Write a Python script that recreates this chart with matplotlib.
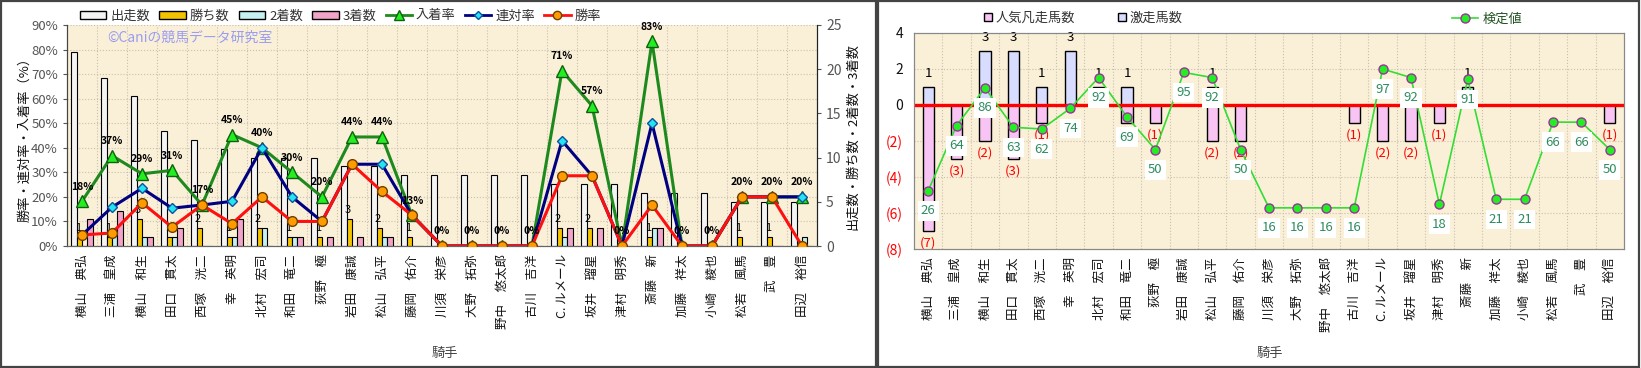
import numpy as np
import matplotlib.pyplot as plt
from matplotlib.patches import Rectangle, Patch
from matplotlib.lines import Line2D

plt.rcParams['font.family'] = ['Noto Sans CJK JP', 'DejaVu Sans']

# ---- データ ----
jockeys = ['横山　典弘', '三浦　皇成', '横山　和生', '田口　貫太', '西塚　洸二',
           '幸　英明', '北村　宏司', '和田　竜二', '荻野　極', '岩田　康誠',
           '松山　弘平', '藤岡　佑介', '川須　栄彦', '大野　拓弥', '野中　悠太郎',
           '古川　吉洋', 'C. ルメール', '坂井　瑠星', '津村　明秀', '斎藤　新',
           '加藤　祥太', '小崎　綾也', '松若　風馬', '武　豊', '田辺　裕信']

runs = [22, 19, 17, 13, 12, 11, 10, 10, 10, 9, 9, 8, 8, 8, 8, 8, 7, 7, 7, 6, 6, 6, 5, 5, 5]
wins = [1, 1, 3, 1, 2, 1, 2, 1, 1, 3, 2, 1, 0, 0, 0, 0, 2, 2, 0, 1, 0, 0, 1, 1, 0]
seconds = [0, 2, 1, 1, 0, 1, 2, 1, 0, 0, 1, 0, 0, 0, 0, 0, 1, 0, 0, 2, 0, 0, 0, 0, 1]
thirds = [3, 4, 1, 2, 0, 3, 0, 1, 1, 1, 1, 0, 0, 0, 0, 0, 2, 2, 0, 2, 0, 0, 0, 0, 0]

# 率（%）
place_rate = [18.2, 36.8, 29.4, 30.8, 16.7, 45.4, 40.0, 30.0, 20.0, 44.4, 44.4, 12.5,
              0, 0, 0, 0, 71.4, 57.1, 0, 83.3, 0, 0, 20.0, 20.0, 20.0]
rentai_rate = [4.5, 15.8, 23.5, 15.4, 16.7, 18.2, 40.0, 20.0, 10.0, 33.3, 33.3, 12.5,
               0, 0, 0, 0, 42.9, 28.6, 0, 50.0, 0, 0, 20.0, 20.0, 20.0]
win_rate = [4.5, 5.3, 17.6, 7.7, 16.7, 9.1, 20.0, 10.0, 10.0, 33.3, 22.2, 12.5,
            0, 0, 0, 0, 28.6, 28.6, 0, 16.7, 0, 0, 20.0, 20.0, 0]

# 右グラフ
hot_runs = [1, 0, 3, 3, 1, 3, 1, 1, 0, 0, 1, 0, 0, 0, 0, 0, 0, 0, 0, 1, 0, 0, 0, 0, 0]
flop_runs = [7, 3, 2, 3, 1, 0, 0, 1, 1, 0, 2, 2, 0, 0, 0, 1, 2, 2, 1, 0, 0, 0, 0, 0, 1]
test_val = [26, 64, 86, 63, 62, 74, 92, 69, 50, 95, 92, 50, 16, 16, 16, 16,
            97, 92, 18, 91, 21, 21, 66, 66, 50]

W, H = 1641, 368
fig = plt.figure(figsize=(W / 100, H / 100), dpi=100)
fig.patch.set_facecolor('white')

def fx(px):
    return px / W

def fy(py):
    return 1 - py / H

# パネル枠
fig.patches.append(Rectangle((fx(1), fy(367)), fx(875), 366 / H, transform=fig.transFigure,
                             fill=False, ec='#444444', lw=1.6))
fig.patches.append(Rectangle((fx(878), fy(367)), fx(761), 366 / H, transform=fig.transFigure,
                             fill=False, ec='#444444', lw=1.6))

BG = '#FAF0D8'
GRID = '#C8C0B0'
x = np.arange(len(jockeys))

# ================= 左グラフ =================
ax1 = fig.add_axes([fx(67), fy(246), fx(750), 221 / H])   # 件数（右軸）
ax1.set_facecolor(BG)
ax2 = ax1.twinx()                                         # 率（左軸）

ax1.set_xlim(-0.5, len(jockeys) - 0.5)
ax1.set_ylim(0, 25)
ax2.set_ylim(0, 90)

# グリッド
for p in range(10, 91, 10):
    ax1.axhline(p / 90 * 25, color=GRID, lw=0.8, ls=':', zorder=0.5)
for i in range(1, len(jockeys)):
    ax1.axvline(i - 0.5, color=GRID, lw=0.8, ls=':', zorder=0.5)

bw = 0.18
ax1.bar(x - 0.27, runs, bw, color='#F4F4F4', edgecolor='black', lw=0.8, zorder=2)
ax1.bar(x - 0.09, wins, bw, color='#F5C400', edgecolor='black', lw=0.8, zorder=2)
ax1.bar(x + 0.09, seconds, bw, color='#C4F0F2', edgecolor='black', lw=0.8, zorder=2)
ax1.bar(x + 0.27, thirds, bw, color='#F2A4C8', edgecolor='black', lw=0.8, zorder=2)

for i, w in enumerate(wins):
    if w > 0:
        ax1.annotate(str(w), (x[i] - 0.09, w), xytext=(-1, 3), textcoords='offset points',
                     ha='center', va='bottom', fontsize=8, zorder=5)

ax2.plot(x, place_rate, color='#1E8A1E', lw=2.2, marker='^', ms=8.5,
         mfc='#22EE22', mec='#106010', zorder=3)
ax2.plot(x, rentai_rate, color='#000080', lw=2.2, marker='D', ms=5,
         mfc='#22E5F0', mec='#1050A0', zorder=4)
ax2.plot(x, win_rate, color='#FF1010', lw=2.2, marker='o', ms=7,
         mfc='#FF9A00', mec='#704000', zorder=5)

for i, v in enumerate(place_rate):
    ax2.annotate(f'{int(v + 0.5)}%', (x[i], v), xytext=(0, 7), textcoords='offset points',
                 ha='center', va='bottom', fontsize=7.5, fontweight='bold', zorder=6)

# 軸の位置入れ替え
ax1.yaxis.tick_right()
ax2.yaxis.tick_left()
ax1.set_yticks(range(0, 26, 5))
ax2.set_yticks(range(0, 91, 10))
ax2.set_yticklabels([f'{p}%' for p in range(0, 91, 10)])
ax1.tick_params(axis='y', labelsize=10, colors='#555555', length=3)
ax2.tick_params(axis='y', labelsize=9.5, colors='#555555', length=3)
ax1.set_xticks(x)
ax1.set_xticklabels(jockeys, rotation=90, fontsize=9, color='#111111')
ax1.tick_params(axis='x', length=0, pad=6)

for a in (ax1, ax2):
    a.spines['top'].set_visible(False)
    a.spines['left'].set_color('#444444')
    a.spines['right'].set_color('#222222')
    a.spines['bottom'].set_color('#666666')

fig.text(fx(107), fy(38), '©Caniの競馬データ研究室', color='#9A9CF0', fontsize=10,
         ha='left', va='center')
fig.text(fx(25), fy(136), '勝率・連対率・入着率（%）', rotation=90, ha='center', va='center',
         fontsize=9.5, color='#111111')
fig.text(fx(853), fy(137), '出走数・勝ち数・2着数・3着数', rotation=90, ha='center', va='center',
         fontsize=9.5, color='#111111')
fig.text(fx(445), fy(353), '騎手', ha='center', va='center', fontsize=9.5, color='#444444')

left_handles = [
    Patch(facecolor='#F4F4F4', edgecolor='black'),
    Patch(facecolor='#F5C400', edgecolor='black'),
    Patch(facecolor='#C4F0F2', edgecolor='black'),
    Patch(facecolor='#F2A4C8', edgecolor='black'),
    Line2D([], [], color='#1E8A1E', lw=2, marker='^', ms=7, mfc='#22EE22', mec='#106010'),
    Line2D([], [], color='#000080', lw=2, marker='D', ms=4.5, mfc='#22E5F0', mec='#1050A0'),
    Line2D([], [], color='#FF1010', lw=2, marker='o', ms=6, mfc='#FF9A00', mec='#704000'),
]
fig.legend(left_handles, ['出走数', '勝ち数', '2着数', '3着数', '入着率', '連対率', '勝率'],
           loc='center left', bbox_to_anchor=(fx(80), fy(16)), ncol=7, frameon=False,
           fontsize=9.5, handlelength=2.0, handleheight=0.5, handletextpad=0.3,
           columnspacing=0.7, borderpad=0, borderaxespad=0, labelcolor='#333333')

# ================= 右グラフ =================
ax3 = fig.add_axes([fx(914), fy(249), fx(710), 216 / H])
ax3.set_facecolor(BG)
ax4 = ax3.twinx()

ax3.set_xlim(-0.5, len(jockeys) - 0.5)
ax3.set_ylim(-8, 4)
ax4.set_ylim(-8, 118)

for v in range(-6, 4, 2):
    if v != 0:
        ax3.axhline(v, color=GRID, lw=0.8, ls=':', zorder=0.5)
for i in range(1, len(jockeys)):
    ax3.axvline(i - 0.5, color=GRID, lw=0.8, ls=':', zorder=0.5)

ax3.bar(x, hot_runs, 0.4, color='#D8DCFF', edgecolor='black', lw=1.0, zorder=2)
ax3.bar(x, [-f for f in flop_runs], 0.4, color='#F8C4F4', edgecolor='black', lw=1.0, zorder=2)
ax3.axhline(0, color='#FF0000', lw=2.4, zorder=3)

for i in range(len(jockeys)):
    if hot_runs[i] > 0:
        ax3.annotate(str(hot_runs[i]), (x[i], hot_runs[i]), xytext=(0, 5),
                     textcoords='offset points', ha='center', va='bottom', fontsize=9.5)
    if flop_runs[i] > 0:
        ax3.annotate(f'({flop_runs[i]})', (x[i], -flop_runs[i]), xytext=(0, -4),
                     textcoords='offset points', ha='center', va='top', fontsize=9.5,
                     color='#FF0000')

ax4.plot(x, test_val, color='#33DD33', lw=1.2, marker='o', ms=6.5,
         mfc='#22EE22', mec='#993399', mew=1.0, zorder=3)
for i, t in enumerate(test_val):
    ax4.annotate(str(t), (x[i], t), xytext=(0, -14.5), textcoords='offset points',
                 ha='center', va='center', fontsize=9.5, color='#2E8B60',
                 bbox=dict(boxstyle='square,pad=0.25', fc='white', ec='none'), zorder=4)
ax4.set_yticks([])

ax3.set_yticks(range(-8, 5, 2))
ax3.set_yticklabels(['(8)', '(6)', '(4)', '(2)', '0', '2', '4'], fontsize=10)
for lab, v in zip(ax3.get_yticklabels(), range(-8, 5, 2)):
    lab.set_color('#FF0000' if v < 0 else '#111111')
ax3.tick_params(axis='y', length=0, pad=8)
ax3.set_xticks(x)
ax3.set_xticklabels(jockeys, rotation=90, fontsize=9, color='#111111')
ax3.tick_params(axis='x', length=0, pad=6)
for a in (ax3, ax4):
    for s in a.spines.values():
        s.set_color('#888888')

fig.text(fx(1270), fy(353), '騎手', ha='center', va='center', fontsize=9.5, color='#444444')

fig.legend([Patch(facecolor='#F8C4F4', edgecolor='black'), Patch(facecolor='#D8DCFF', edgecolor='black')],
           ['人気凡走馬数', '激走馬数'], loc='center left', bbox_to_anchor=(fx(984), fy(18)),
           ncol=2, frameon=False, fontsize=9.5, handlelength=0.6, handleheight=0.6,
           handletextpad=0.3, columnspacing=3.2, borderpad=0, borderaxespad=0,
           labelcolor='#333333')
fig.legend([Line2D([], [], color='#33DD33', lw=1.2, marker='o', ms=6.5, mfc='#22EE22',
                   mec='#993399')],
           ['検定値'], loc='center left', bbox_to_anchor=(fx(1452), fy(19)), frameon=False,
           fontsize=9.5, handlelength=2.0, handletextpad=0.3, borderpad=0, borderaxespad=0,
           labelcolor='#225522')

fig.savefig('out.png', dpi=100)
